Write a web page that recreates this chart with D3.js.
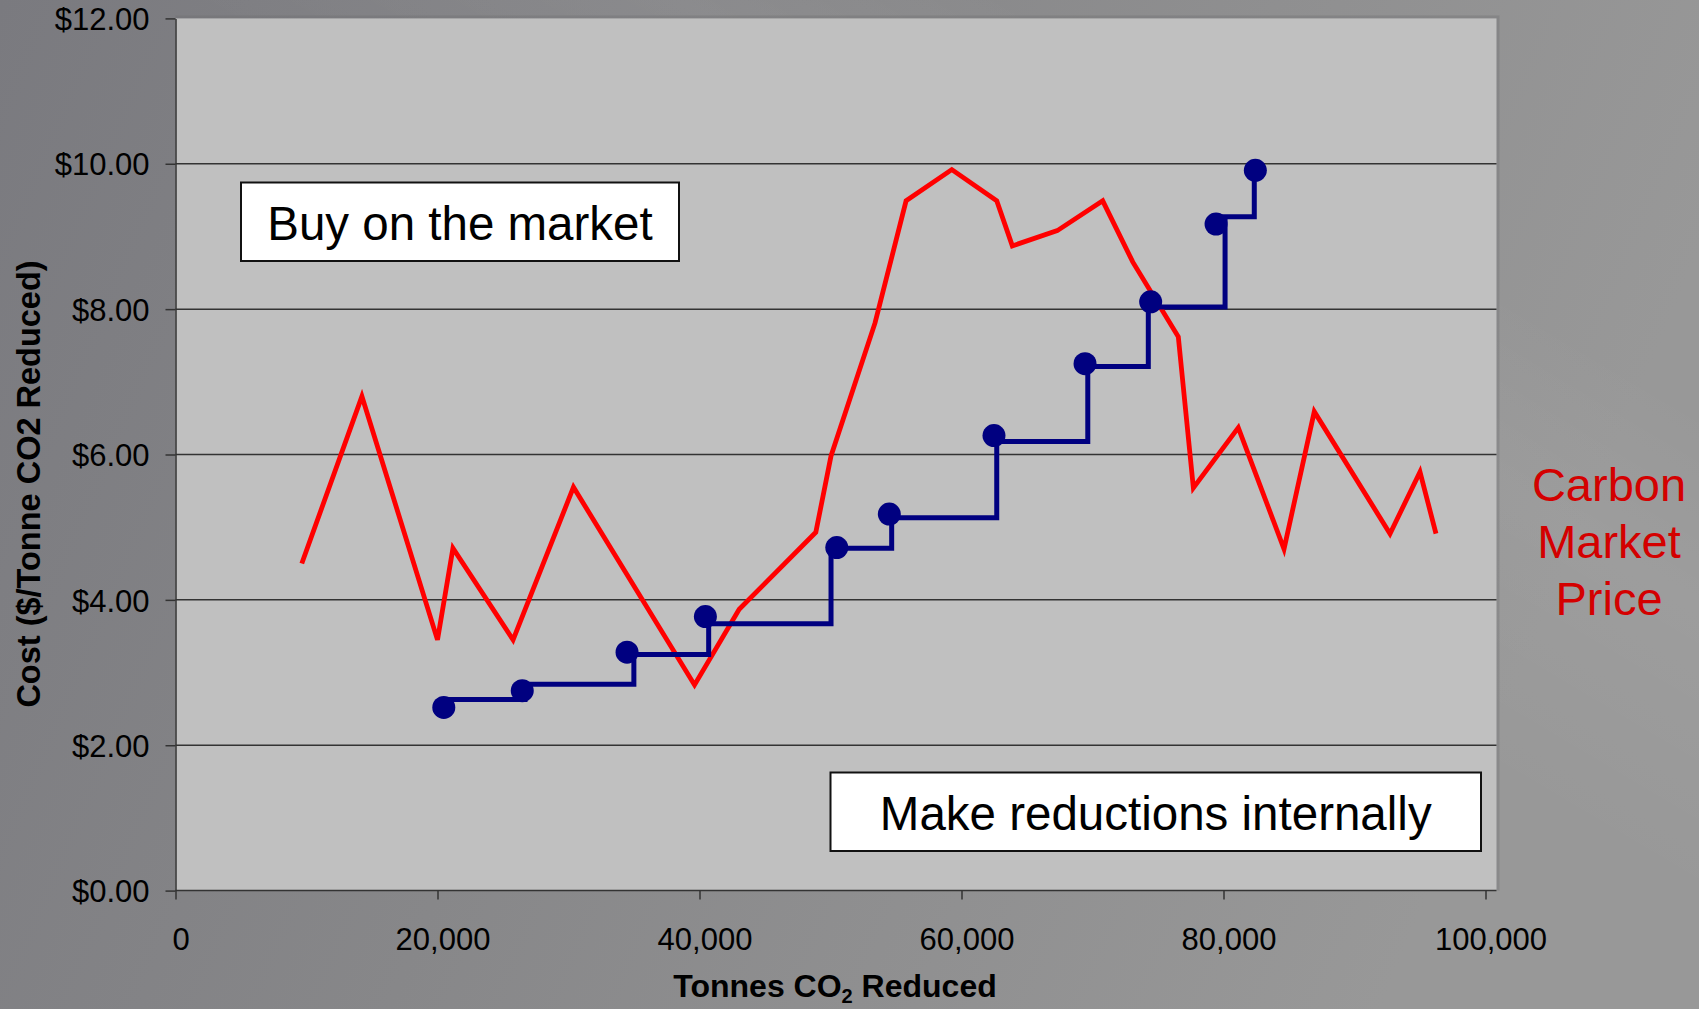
<!DOCTYPE html>
<html>
<head>
<meta charset="utf-8">
<script src="https://cdn.jsdelivr.net/npm/d3@7"></script>
<style>
  html, body { margin: 0; padding: 0; background: #888; }
  svg { display: block; }
  text { font-family: Arial, "Liberation Sans", sans-serif; }
</style>
</head>
<body>
<svg id="chart" width="1699" height="1009"></svg>
<script>
// ---- Data -------------------------------------------------------------
// Carbon market price (tonnes reduced, $/tonne)
const marketX    = [9640, 14230, 20000, 21180, 25770, 30380, 39620, 43030, 48880, 50040,
                    53400, 55770, 59260, 62690, 63880, 67310, 70780, 73070, 76550, 77700,
                    81130, 84620, 86930, 92710, 95000, 96220];
const marketCost = [4.50, 6.80, 3.45, 4.71, 3.45, 5.55, 2.83, 3.87, 4.93, 5.98,
                    7.81, 9.49, 9.92, 9.49, 8.87, 9.08, 9.49, 8.65, 7.62, 5.54,
                    6.37, 4.70, 6.59, 4.91, 5.76, 4.91];

// Internal reduction projects: marker position and cost
const projectX    = [20480, 26470, 34470, 40450, 50480, 54490, 62480, 69430, 74440, 79430, 82430];
const projectCost = [2.52, 2.75, 3.28, 3.77, 4.72, 5.18, 6.26, 7.25, 8.10, 9.17, 9.91];
// Step curve: level of each project's run and the tonnage where it ends
const stepLevel = [2.63, 2.84, 3.25, 3.67, 4.71, 5.13, 6.18, 7.21, 8.03, 9.27];
const stepEnd   = [26680, 34990, 40700, 50040, 54670, 62690, 69640, 74260, 80120, 82350];

// Axis ticks
const yTicks      = [0, 2, 4, 6, 8, 10, 12];
const yTickLabels = ["$0.00", "$2.00", "$4.00", "$6.00", "$8.00", "$10.00", "$12.00"];
const xTicks      = [0, 20000, 40000, 60000, 80000, 100000];
const xTickLabels = ["0", "20,000", "40,000", "60,000", "80,000", "100,000"];

// ---- Layout -----------------------------------------------------------
const W = 1699, H = 1009;
const plot = { left: 175.5, top: 18.4, right: 1496.5, bottom: 890.6 };
const svg = d3.select("#chart");

const x = d3.scaleLinear().domain([0, 100000]).range([plot.left, 1485.5]);
const y = d3.scaleLinear().domain([0, 12]).range([plot.bottom, plot.top]);

// ---- Background -------------------------------------------------------
const defs = svg.append("defs");
const bg = defs.append("linearGradient").attr("id", "bg")
  .attr("x1", "0").attr("y1", "0").attr("x2", "1").attr("y2", "0.25");
bg.append("stop").attr("offset", "0").attr("stop-color", "#7a7a7f");
bg.append("stop").attr("offset", "0.45").attr("stop-color", "#878789");
bg.append("stop").attr("offset", "1").attr("stop-color", "#989898");
svg.append("rect").attr("width", W).attr("height", H).attr("fill", "url(#bg)");

const streak = defs.append("linearGradient").attr("id", "streak")
  .attr("x1", "0").attr("y1", "1").attr("x2", "1").attr("y2", "0");
streak.append("stop").attr("offset", "0.55").attr("stop-color", "#fff").attr("stop-opacity", 0);
streak.append("stop").attr("offset", "0.70").attr("stop-color", "#fff").attr("stop-opacity", 0.05);
streak.append("stop").attr("offset", "0.80").attr("stop-color", "#fff").attr("stop-opacity", 0);
svg.append("rect").attr("width", W).attr("height", H).attr("fill", "url(#streak)");

// ---- Plot area --------------------------------------------------------
svg.append("rect")
  .attr("x", plot.left).attr("y", plot.top - 3)
  .attr("width", plot.right - plot.left + 3).attr("height", plot.bottom - plot.top + 3)
  .attr("fill", "#6e6e70").attr("opacity", 0.35);
svg.append("rect")
  .attr("x", plot.left).attr("y", plot.top)
  .attr("width", plot.right - plot.left).attr("height", plot.bottom - plot.top)
  .attr("fill", "#c0c0c0");

// Horizontal gridlines
svg.append("g").selectAll("line")
  .data(yTicks.filter(d => d > 0 && d < 12))
  .join("line")
  .attr("x1", plot.left).attr("x2", plot.right)
  .attr("y1", d => y(d)).attr("y2", d => y(d))
  .attr("stroke", "#333").attr("stroke-width", 1.5);

// Y axis
const yAxis = svg.append("g")
  .attr("transform", `translate(${plot.left},0)`)
  .call(d3.axisLeft(y).tickValues(yTicks)
    .tickFormat((d, i) => yTickLabels[i]).tickSize(10).tickPadding(16).tickSizeOuter(0));
yAxis.select(".domain").attr("stroke", "#333").attr("stroke-width", 1.5);
yAxis.selectAll(".tick line").attr("stroke", "#333").attr("stroke-width", 1.5);
yAxis.selectAll(".tick text")
  .attr("font-size", 31).attr("fill", "#000")
  .attr("font-family", "Arial, 'Liberation Sans', sans-serif")
  .attr("dy", "0.36em");

// X axis
const xAxis = svg.append("g")
  .attr("transform", `translate(0,${plot.bottom})`)
  .call(d3.axisBottom(x).tickValues(xTicks)
    .tickFormat((d, i) => xTickLabels[i]).tickSize(9).tickSizeOuter(0));
xAxis.select(".domain").attr("d", `M${plot.left},0H${plot.right}`)
  .attr("stroke", "#333").attr("stroke-width", 1.5);
xAxis.selectAll(".tick line").attr("stroke", "#333").attr("stroke-width", 1.5);
xAxis.selectAll(".tick text")
  .attr("font-size", 31).attr("fill", "#000")
  .attr("font-family", "Arial, 'Liberation Sans', sans-serif")
  .attr("x", 5).attr("y", 59).attr("dy", 0);

// Axis titles
const xt = svg.append("text")
  .attr("x", 835).attr("y", 997)
  .attr("text-anchor", "middle")
  .attr("font-size", 32).attr("font-weight", "bold").attr("fill", "#000");
xt.append("tspan").text("Tonnes CO");
xt.append("tspan").attr("font-size", 20).attr("dy", 6).text("2");
xt.append("tspan").attr("dy", -6).text(" Reduced");

svg.append("text")
  .attr("transform", "translate(40,484) rotate(-90)")
  .attr("text-anchor", "middle")
  .attr("font-size", 32.5).attr("font-weight", "bold").attr("fill", "#000")
  .text("Cost ($/Tonne CO2 Reduced)");

// ---- Annotation boxes -------------------------------------------------
function labelBox(x0, y0, x1, y1, label, baseline) {
  svg.append("rect")
    .attr("x", x0).attr("y", y0).attr("width", x1 - x0).attr("height", y1 - y0)
    .attr("fill", "#fff").attr("stroke", "#111").attr("stroke-width", 2);
  svg.append("text")
    .attr("x", (x0 + x1) / 2).attr("y", baseline)
    .attr("text-anchor", "middle").attr("font-size", 47.5).attr("fill", "#000")
    .text(label);
}
labelBox(241, 182.5, 679, 261, "Buy on the market", 240);
labelBox(830.5, 772.5, 1481, 851, "Make reductions internally", 830);

// ---- Market price line ------------------------------------------------
const marketData = marketX.map((d, i) => [d, marketCost[i]]);
svg.append("path")
  .datum(marketData)
  .attr("fill", "none").attr("stroke", "#ff0000").attr("stroke-width", 4.8)
  .attr("stroke-linejoin", "miter")
  .attr("d", d3.line().x(d => x(d[0])).y(d => y(d[1])));

// ---- Internal reduction step curve ------------------------------------
const stepPts = [];
stepLevel.forEach((lvl, i) => {
  const next = i < stepLevel.length - 1 ? stepLevel[i + 1] : projectCost[projectCost.length - 1];
  stepPts.push([projectX[i], lvl], [stepEnd[i], lvl], [stepEnd[i], next]);
});
svg.append("path")
  .datum(stepPts)
  .attr("fill", "none").attr("stroke", "#000080").attr("stroke-width", 5)
  .attr("stroke-linejoin", "miter")
  .attr("d", d3.line().x(d => x(d[0])).y(d => y(d[1])));

svg.append("g").selectAll("circle")
  .data(projectX.map((d, i) => [d, projectCost[i]]))
  .join("circle")
  .attr("cx", d => x(d[0])).attr("cy", d => y(d[1])).attr("r", 11.5)
  .attr("fill", "#000080");

// ---- Series label -----------------------------------------------------
const seriesLabel = svg.append("text")
  .attr("text-anchor", "middle").attr("font-size", 47).attr("fill", "#d40000");
["Carbon", "Market", "Price"].forEach((w, i) => {
  seriesLabel.append("tspan").attr("x", 1609).attr("y", 501 + i * 57).text(w);
});
</script>
</body>
</html>
